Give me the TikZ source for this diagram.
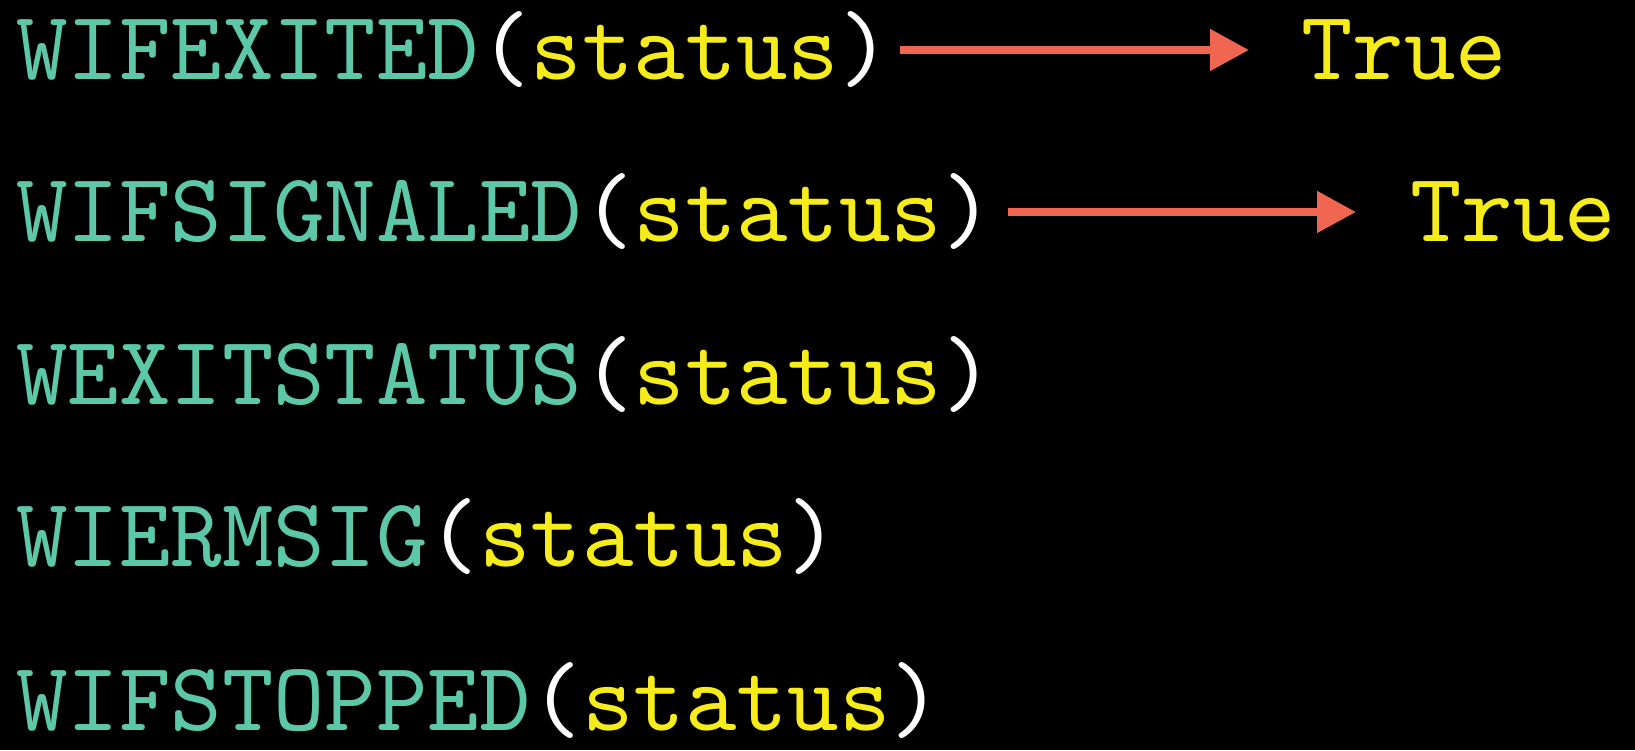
\documentclass[tikz,border=0pt]{standalone}
\usepackage{fontspec}
\usetikzlibrary{arrows.meta}
\newfontfamily\lmten{lmmono10-regular.otf}
\definecolor{fnteal}{RGB}{92,200,168}
\definecolor{argyel}{RGB}{246,236,28}
\definecolor{arrred}{RGB}{240,102,80}
\tikzset{
  codeline/.style={anchor=base west, inner sep=0pt, font=\lmten\fontsize{98}{98}\selectfont},
  arr/.style={draw=arrred, line width=8pt, -{Triangle[length=39pt,width=40pt]}}
}
\newcommand{\fnname}[1]{\textcolor{fnteal}{#1}}
\newcommand{\argname}[1]{\textcolor{argyel}{#1}}
\newcommand{\callof}[1]{\fnname{#1}\textcolor{white}{(}\argname{status}\textcolor{white}{)}}
\begin{document}
\begin{tikzpicture}
\fill[black] (0,0) rectangle (1635pt,750pt);
\useasboundingbox (0,0) rectangle (1635pt,750pt);
\node[codeline] (l1) at (16pt,670pt) {\callof{WIFEXITED}};
\node[codeline] (l2) at (16pt,508pt) {\callof{WIFSIGNALED}};
\node[codeline] (l3) at (16pt,345pt) {\callof{WEXITSTATUS}};
\node[codeline] (l4) at (16pt,183pt) {\callof{WIERMSIG}};
\node[codeline] (l5) at (16pt,20pt) {\callof{WIFSTOPPED}};
\node[codeline] (t1) at (1301pt,670pt) {\argname{True}};
\node[codeline] (t2) at (1410pt,508pt) {\argname{True}};
\draw[arr] ([shift={(9pt,30pt)}]l1.base east) -- ([shift={(-52pt,30pt)}]t1.base west);
\draw[arr] ([shift={(14pt,30pt)}]l2.base east) -- ([shift={(-54pt,30pt)}]t2.base west);
\end{tikzpicture}
\end{document}
